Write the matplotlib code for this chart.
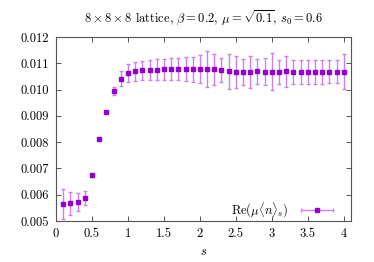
import matplotlib
matplotlib.use("Agg")
import matplotlib.pyplot as plt
from matplotlib.legend_handler import HandlerErrorbar
import numpy as np

plt.rcParams['font.family'] = 'cmr10'
plt.rcParams['mathtext.fontset'] = 'cm'
plt.rcParams['axes.formatter.use_mathtext'] = True

s = np.round(np.arange(1, 41) * 0.1, 1)
re_mu_n = [0.00565, 0.00567, 0.00572, 0.00586, 0.00674, 0.00812, 0.00916, 0.00995,
           0.01041, 0.01062, 0.01069, 0.01073, 0.01075, 0.01076, 0.01077, 0.01078,
           0.01078, 0.01078, 0.01077, 0.01078, 0.01078, 0.01077, 0.01073, 0.01070,
           0.01068, 0.01068, 0.01068, 0.01069, 0.01068, 0.01068, 0.01068, 0.01069,
           0.01068, 0.01068, 0.01068, 0.01068, 0.01068, 0.01068, 0.01068, 0.01068]
err = [0.00056, 0.00043, 0.00034, 0.00027, 0.00005, 0.00003, 0.00003, 0.00015,
       0.00028, 0.00034, 0.00035, 0.00037, 0.00039, 0.00041, 0.00040, 0.00042,
       0.00043, 0.00044, 0.00047, 0.00054, 0.00068, 0.00059, 0.00046, 0.00067,
       0.00061, 0.00050, 0.00061, 0.00046, 0.00051, 0.00070, 0.00046, 0.00059,
       0.00046, 0.00046, 0.00046, 0.00046, 0.00046, 0.00043, 0.00044, 0.00066]

violet = '#9400d3'
light = '#cc80ee'

fig = plt.figure(figsize=(3.74, 2.62), dpi=100)
ax = fig.add_axes([0.1497, 0.1565, 0.7888, 0.7023])

ax.errorbar(s, re_mu_n, yerr=err, fmt='s', color=violet, ms=3.0, ecolor=light,
            elinewidth=1.0, capsize=1.6, capthick=1.0)
# legend proxy with horizontal error bar, gnuplot style
proxy = ax.errorbar([np.nan], [np.nan], xerr=[np.nan], fmt='s', color=violet, ms=3.0,
                    ecolor=light, elinewidth=1.0, capsize=1.6, capthick=1.0,
                    label=r'$\mathrm{Re}(\mu\langle n\rangle_s)$')

ax.set_xlim(0, 4.1)
ax.set_ylim(0.005, 0.012)
ax.set_xticks([0, 0.5, 1, 1.5, 2, 2.5, 3, 3.5, 4])
ax.set_xticklabels(['0', '0.5', '1', '1.5', '2', '2.5', '3', '3.5', '4'])
ax.set_yticks(np.arange(0.005, 0.0121, 0.001))
ax.set_yticklabels(['%.3f' % v for v in np.arange(0.005, 0.0121, 0.001)])
ax.tick_params(direction='in', top=True, right=True, length=3.5, width=0.7,
               labelsize=9, color='#555555', pad=5)
for sp in ax.spines.values():
    sp.set_color('#555555')
    sp.set_linewidth(0.8)

ax.set_xlabel(r'$s$', fontsize=9)
ax.set_title(r'$8\times8\times8$ lattice, $\beta=0.2$, $\mu=\sqrt{0.1}$, $s_0=0.6$',
             fontsize=9, pad=10)

ax.legend(loc='lower right', frameon=False, fontsize=9, markerfirst=False,
          handlelength=2.9, handletextpad=0.8, bbox_to_anchor=(0.98, -0.05),
          borderpad=0.3,
          handler_map={proxy: HandlerErrorbar(xerr_size=1.3)})

fig.savefig('out.png', dpi=100)
